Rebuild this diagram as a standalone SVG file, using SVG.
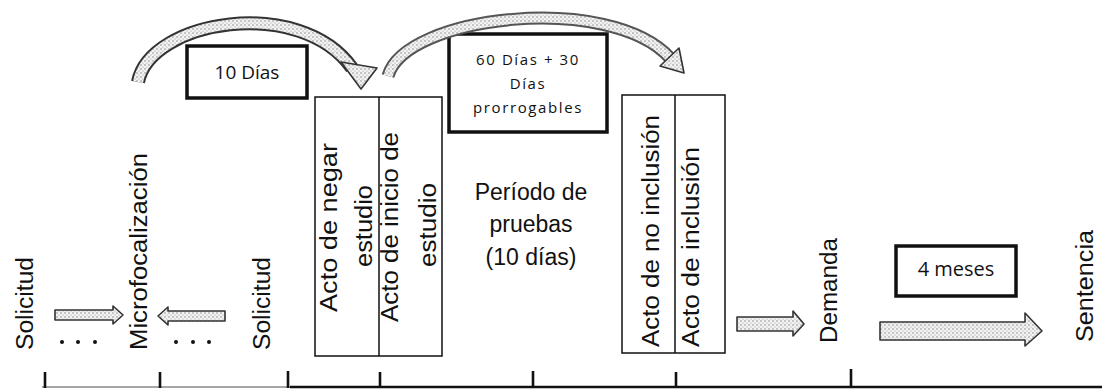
<svg xmlns="http://www.w3.org/2000/svg" width="1102" height="389" viewBox="0 0 1102 389">
<style>
.lbl{font-family:"Liberation Sans",Arial,sans-serif;font-size:23px;fill:#111}
.box{fill:#fff;stroke:#111;stroke-width:1.5}
.tbox{fill:#fff;stroke:#111;stroke-width:3.5}
.cal{font-family:"Open Sans","Noto Sans",sans-serif;fill:#111;text-anchor:middle}
.blk{fill:url(#stip);stroke:#333;stroke-width:1.6;stroke-linejoin:round}
.tick{stroke:#111;stroke-width:2.6}
</style>
<defs>
<pattern id="stip" width="4" height="4" patternUnits="userSpaceOnUse">
<rect width="4" height="4" fill="#f2f2f2"/>
<circle cx="1" cy="1" r="0.7" fill="#777"/>
<circle cx="3" cy="3" r="0.6" fill="#999"/>
</pattern>
</defs>
<rect width="1102" height="389" fill="#fff"/>

<g id="axis">
<line x1="42" y1="387" x2="290" y2="387" stroke="#888" stroke-width="1.3"/>
<line x1="290" y1="387" x2="1102" y2="387" stroke="#111" stroke-width="2.6"/>
<line class="tick" x1="45" y1="372" x2="45" y2="388"/>
<line class="tick" x1="160" y1="372" x2="160" y2="388"/>
<line class="tick" x1="288" y1="371" x2="288" y2="388"/>
<line class="tick" x1="380" y1="372" x2="380" y2="388"/>
<line class="tick" x1="533" y1="371" x2="533" y2="388"/>
<line class="tick" x1="676" y1="372" x2="676" y2="388"/>
<line class="tick" x1="851" y1="369" x2="851" y2="388"/>
</g>

<g id="solicitud1"><text class="lbl" transform="translate(33,350) rotate(-90)" textLength="93" lengthAdjust="spacingAndGlyphs">Solicitud</text></g>
<g id="microfocalizacion"><text class="lbl" transform="translate(147,350) rotate(-90)" textLength="197" lengthAdjust="spacingAndGlyphs">Microfocalización</text></g>
<g id="solicitud2"><text class="lbl" transform="translate(270,350) rotate(-90)" textLength="93" lengthAdjust="spacingAndGlyphs">Solicitud</text></g>

<g id="dots1"><circle cx="62" cy="342" r="2" fill="#111"/><circle cx="78" cy="342" r="2" fill="#111"/><circle cx="95" cy="342" r="2" fill="#111"/></g>
<g id="dots2"><circle cx="176" cy="342" r="2" fill="#111"/><circle cx="193" cy="342" r="2" fill="#111"/><circle cx="209" cy="342" r="2" fill="#111"/></g>

<g id="actos-estudio">
<rect class="box" x="315" y="97" width="127" height="259"/>
<line x1="379" y1="97" x2="379" y2="356" stroke="#111" stroke-width="1.5"/>
<text class="lbl" transform="translate(337,312) rotate(-90)" textLength="169" lengthAdjust="spacingAndGlyphs">Acto de negar</text>
<text class="lbl" transform="translate(372,267) rotate(-90)" textLength="82" lengthAdjust="spacingAndGlyphs">estudio</text>
<text class="lbl" transform="translate(398,322) rotate(-90)" textLength="190" lengthAdjust="spacingAndGlyphs">Acto de inicio de</text>
<text class="lbl" transform="translate(436,267) rotate(-90)" textLength="84" lengthAdjust="spacingAndGlyphs">estudio</text>
</g>

<g id="periodo-pruebas">
<text class="lbl" x="531" y="200" text-anchor="middle">Período de</text>
<text class="lbl" x="531" y="232" text-anchor="middle">pruebas</text>
<text class="lbl" x="531" y="265" text-anchor="middle">(10 días)</text>
</g>

<g id="actos-inclusion">
<rect class="box" x="622" y="95" width="103" height="258"/>
<line x1="675" y1="95" x2="675" y2="353" stroke="#111" stroke-width="1.5"/>
<text class="lbl" transform="translate(659,347) rotate(-90)" textLength="232" lengthAdjust="spacingAndGlyphs">Acto de no inclusión</text>
<text class="lbl" transform="translate(699,347) rotate(-90)" textLength="200" lengthAdjust="spacingAndGlyphs">Acto de inclusión</text>
</g>

<g id="demanda"><text class="lbl" transform="translate(837,343) rotate(-90)" textLength="105" lengthAdjust="spacingAndGlyphs">Demanda</text></g>
<g id="sentencia"><text class="lbl" transform="translate(1093,342) rotate(-90)" textLength="112" lengthAdjust="spacingAndGlyphs">Sentencia</text></g>

<g id="plazo-10-dias">
<rect class="tbox" x="187" y="46" width="120" height="52"/>
<text class="cal" x="247" y="79" font-size="19">10 Días</text>
</g>

<g id="plazo-60-dias">
<rect class="tbox" x="449" y="34" width="158" height="98" stroke-width="4"/>
<text class="cal" x="528" y="65" font-size="15" letter-spacing="1.6">60 Días + 30</text>
<text class="cal" x="528" y="89" font-size="15" letter-spacing="1.6">Días</text>
<text class="cal" x="528" y="113" font-size="15" letter-spacing="1.6">prorrogables</text>
</g>

<g id="plazo-4-meses">
<rect class="tbox" x="896" y="246" width="120" height="50"/>
<text class="cal" x="956" y="276" font-size="20">4 meses</text>
</g>

<g id="connectors">
<path d="M138 82 C150 20 300 -5 352 68" fill="none" stroke="#333" stroke-width="14"/>
<path d="M138 82 C150 20 300 -5 352 68" fill="none" stroke="url(#stip)" stroke-width="10"/>
<polygon class="blk" points="341,62 361,89 377,68"/>
<path d="M388 76 C405 15 610 -8 670 58" fill="none" stroke="#555" stroke-width="13"/>
<path d="M388 76 C405 15 610 -8 670 58" fill="none" stroke="url(#stip)" stroke-width="9"/>
<polygon class="blk" points="660,66 684,73 679,48"/>
<path class="blk" d="M55 310 H113 V306 L123 315 L113 324 V320 H55 Z"/>
<path class="blk" d="M225 311 H168 V307 L158 316 L168 325 V321 H225 Z" stroke-width="2.2"/>
<path class="blk" d="M737 317 H793 V311 L804 324 L793 336 V331 H737 Z"/>
<path class="blk" d="M880 322 H1025 V313 L1042 331 L1025 346 V340 H880 Z"/>
</g>
</svg>
